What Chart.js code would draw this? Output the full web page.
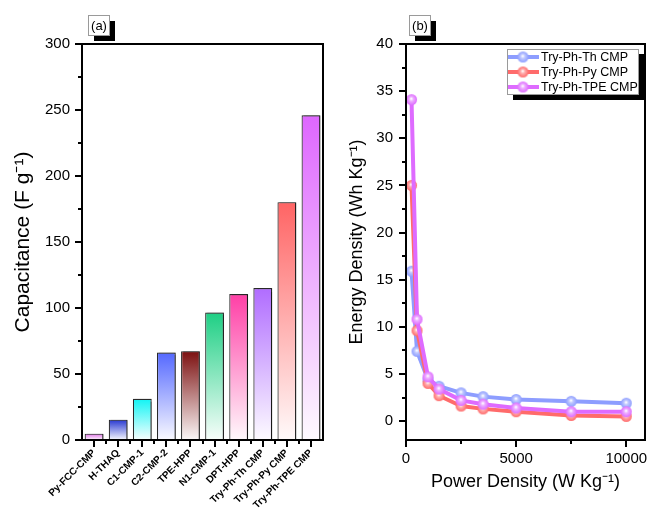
<!DOCTYPE html>
<html>
<head>
<meta charset="utf-8">
<script src="https://cdn.jsdelivr.net/npm/chart.js@4.4.1/dist/chart.umd.min.js"></script>
<style>
  html, body { margin: 0; padding: 0; background: #fff; }
  #wrap { position: relative; width: 648px; height: 513px; }
  #boxA { position: absolute; left: 0; top: 0; width: 330px; height: 513px; }
  #boxB { position: absolute; left: 330px; top: 0; width: 318px; height: 513px; }
</style>
</head>
<body>
<div id="wrap">
  <div id="boxA"><canvas id="chartA"></canvas></div>
  <div id="boxB"><canvas id="chartB"></canvas></div>
</div>
<script>
// (a) specific capacitance of the materials
const materials = ['Py-FCC-CMP', 'H-THAQ', 'C1-CMP-1', 'C2-CMP-2', 'TPE-HPP', 'N1-CMP-1',
                   'DPT-HPP', 'Try-Ph-Th CMP', 'Try-Ph-Py CMP', 'Try-Ph-TPE CMP'];
const capacitance = [4.8, 15.4, 31.3, 66.3, 67.3, 96.5, 110.6, 115.2, 180.2, 246];
const capTicks = [0, 25, 50, 75, 100, 125, 150, 175, 200, 225, 250, 275, 300];
const capTickLabels = [0, 50, 100, 150, 200, 250, 300];

// (b) Ragone plot
const powerDensity = [250, 500, 1000, 1500, 2500, 3500, 5000, 7500, 10000];
const energyTh  = [15.9, 7.4, 4.4, 3.7, 3.0, 2.6, 2.3, 2.1, 1.9];
const energyPy  = [25.0, 9.6, 4.0, 2.7, 1.6, 1.3, 1.0, 0.6, 0.5];
const energyTPE = [34.1, 10.8, 4.7, 3.4, 2.2, 1.8, 1.4, 1.0, 1.0];
const seriesNames = ['Try-Ph-Th CMP', 'Try-Ph-Py CMP', 'Try-Ph-TPE CMP'];
const energyTicks = [0, 2.5, 5, 7.5, 10, 12.5, 15, 17.5, 20, 22.5, 25, 27.5, 30, 32.5, 35, 37.5, 40];
const energyTickLabels = [0, 5, 10, 15, 20, 25, 30, 35, 40];
const powerTicks = [0, 2500, 5000, 7500, 10000];
const powerTickLabels = [0, 5000, 10000];

// colours
const barColors = ['#e070e8', '#2636d0', '#10f4f4', '#5468ff', '#7c1010', '#1ecf84',
                   '#ff3fa6', '#b06cff', '#ff6464', '#de66ff'];
const lineColors = ['#8d9dff', '#ff6b6b', '#de6bff'];

Chart.defaults.font.family = '"Liberation Sans", Arial, sans-serif';
Chart.defaults.color = '#000';

function hexRgb(hex) {
  const n = parseInt(hex.slice(1), 16);
  return [(n >> 16) & 255, (n >> 8) & 255, n & 255];
}
function tint(hex, amt) { // mix with white
  const [r, g, b] = hexRgb(hex);
  const m = v => Math.round(v + (255 - v) * amt);
  return `rgb(${m(r)},${m(g)},${m(b)})`;
}

// shiny ball marker
function sphere(color, r) {
  const c = document.createElement('canvas');
  const s = Math.ceil(r * 2) + 2;
  c.width = c.height = s;
  const g = c.getContext('2d');
  const cx = s / 2, cy = s / 2;
  const grad = g.createRadialGradient(cx - 0.3, cy - 1, 0.3, cx, cy, r);
  grad.addColorStop(0, '#ffffff');
  grad.addColorStop(0.35, tint(color, 0.45));
  grad.addColorStop(1, color);
  g.fillStyle = grad;
  g.beginPath();
  g.arc(cx, cy, r, 0, Math.PI * 2);
  g.fill();
  return c;
}
const balls = lineColors.map(c => sphere(c, 5.5));

// fixed tick lists, no auto padding from labels
const useTicks = (list) => (s) => { s.ticks = list.map(v => ({ value: v })); };
const noPad = (s) => { s.paddingLeft = 0; s.paddingRight = 0; s.paddingTop = 0; s.paddingBottom = 0; };

// box frame + major/minor tick marks drawn outward
const frameTicks = {
  id: 'frameTicks',
  afterDraw(chart) {
    const { ctx, chartArea: a } = chart;
    const xs = chart.scales.x, ys = chart.scales.y;
    ctx.save();
    ctx.strokeStyle = '#000';
    ctx.lineWidth = 2;
    ctx.strokeRect(a.left, a.top, a.right - a.left, a.bottom - a.top);
    ctx.beginPath();
    ys.ticks.forEach(t => {
      const p = Math.round(ys.getPixelForValue(t.value));
      const len = t.label !== '' ? 7 : 4;
      ctx.moveTo(a.left - len, p);
      ctx.lineTo(a.left, p);
    });
    if (xs.type === 'category') {
      for (let i = 0; i < xs.ticks.length; i++) {
        const p = Math.round(xs.getPixelForValue(i));
        ctx.moveTo(p, a.bottom);
        ctx.lineTo(p, a.bottom + 7);
        if (i < xs.ticks.length - 1) {
          const q = Math.round(xs.getPixelForValue(i + 0.5));
          ctx.moveTo(q, a.bottom);
          ctx.lineTo(q, a.bottom + 4);
        }
      }
    } else {
      xs.ticks.forEach(t => {
        const p = Math.round(xs.getPixelForValue(t.value));
        const len = t.label !== '' ? 7 : 4;
        ctx.moveTo(p, a.bottom);
        ctx.lineTo(p, a.bottom + len);
      });
    }
    ctx.stroke();
    ctx.restore();
  }
};

// "(a)" / "(b)" tag with black drop shadow
const panelTag = {
  id: 'panelTag',
  afterDraw(chart, args, opts) {
    const ctx = chart.ctx;
    const x = opts.x, y = 15, w = 21, h = 20;
    ctx.save();
    ctx.fillStyle = '#000';
    ctx.fillRect(x + 6, y + 6, w, h);
    ctx.fillStyle = '#fff';
    ctx.fillRect(x, y, w, h);
    ctx.strokeStyle = '#9a9a9a';
    ctx.lineWidth = 1;
    ctx.strokeRect(x + 0.5, y + 0.5, w, h);
    ctx.fillStyle = '#000';
    ctx.font = '13px "Liberation Sans", Arial, sans-serif';
    ctx.textAlign = 'center';
    ctx.textBaseline = 'middle';
    ctx.fillText(opts.text, x + w / 2 + 0.5, y + h / 2 + 1);
    ctx.restore();
  }
};

// grey shadow on the right side of bars
const barShadow = {
  id: 'barShadow',
  beforeDatasetsDraw(chart) {
    const ctx = chart.ctx;
    ctx.save();
    ctx.shadowColor = 'rgba(0,0,0,0.45)';
    ctx.shadowOffsetX = 2;
    ctx.shadowOffsetY = 0;
    ctx.shadowBlur = 1;
  },
  afterDatasetsDraw(chart) {
    chart.ctx.restore();
  }
};

// framed legend with drop shadow
const boxLegend = {
  id: 'boxLegend',
  afterDraw(chart) {
    const ctx = chart.ctx;
    const left = chart.chartArea.right - 138, top = 49, w = 131, h = 45;
    ctx.save();
    ctx.fillStyle = '#000';
    ctx.fillRect(left + 6, top + 5, w, h + 1);
    ctx.fillStyle = '#fff';
    ctx.fillRect(left, top, w, h);
    ctx.strokeStyle = '#9a9a9a';
    ctx.lineWidth = 1;
    ctx.strokeRect(left + 0.5, top + 0.5, w, h);
    ctx.font = '12.5px "Liberation Sans", Arial, sans-serif';
    ctx.textBaseline = 'middle';
    chart.data.datasets.forEach((ds, i) => {
      const y = top + 8 + i * 15;
      ctx.strokeStyle = ds.borderColor;
      ctx.lineWidth = 4;
      ctx.beginPath();
      ctx.moveTo(left + 1, y);
      ctx.lineTo(left + 32, y);
      ctx.stroke();
      const img = balls[i];
      ctx.drawImage(img, left + 16 - img.width / 2, y - img.height / 2);
      ctx.fillStyle = '#000';
      ctx.fillText(ds.label, left + 34, y + 0.5);
    });
    ctx.restore();
  }
};

// ---------- chart (a) ----------
new Chart(document.getElementById('chartA'), {
  type: 'bar',
  data: {
    labels: materials,
    datasets: [{
      data: capacitance,
      backgroundColor: (c) => {
        const col = barColors[c.dataIndex];
        const chart = c.chart;
        if (!chart.chartArea || c.dataIndex === undefined) return col;
        const ys = chart.scales.y;
        const top = ys.getPixelForValue(capacitance[c.dataIndex]);
        const base = ys.getPixelForValue(0);
        const g = chart.ctx.createLinearGradient(0, top, 0, base);
        g.addColorStop(0, col);
        g.addColorStop(1, tint(col, 0.97));
        return g;
      },
      borderColor: '#2a2a2a',
      borderWidth: 1.2,
      barPercentage: 0.78,
      categoryPercentage: 1
    }]
  },
  options: {
    responsive: true,
    maintainAspectRatio: false,
    animation: false,
    layout: { autoPadding: false, padding: { left: 0, right: 7, top: 44, bottom: 0 } },
    plugins: {
      legend: { display: false },
      tooltip: { enabled: false },
      panelTag: { x: 88, text: '(a)' }
    },
    scales: {
      x: {
        grid: { display: false, drawTicks: false },
        border: { display: false },
        ticks: {
          autoSkip: false,
          minRotation: 45,
          maxRotation: 45,
          padding: 7,
          font: { size: 10, weight: 'bold' }
        },
        afterFit: (s) => { s.height = 73; noPad(s); }
      },
      y: {
        min: 0,
        max: 300,
        grid: { display: false, drawTicks: false },
        border: { display: false },
        afterBuildTicks: useTicks(capTicks),
        ticks: {
          autoSkip: false,
          padding: 12,
          font: { size: 15 },
          callback: (v) => capTickLabels.includes(v) ? String(v) : ''
        },
        title: {
          display: true,
          text: 'Capacitance (F g⁻¹)',
          font: { size: 21 },
          padding: { top: 11, bottom: 0 }
        },
        afterFit: (s) => { s.width = 82; noPad(s); }
      }
    }
  },
  plugins: [barShadow, frameTicks, panelTag]
});

// ---------- chart (b) ----------
const seriesData = [energyTh, energyPy, energyTPE];
new Chart(document.getElementById('chartB'), {
  type: 'line',
  data: {
    datasets: seriesNames.map((name, i) => ({
      label: name,
      data: powerDensity.map((p, k) => ({ x: p, y: seriesData[i][k] })),
      borderColor: lineColors[i],
      backgroundColor: lineColors[i],
      borderWidth: 4,
      pointStyle: balls[i],
      pointRadius: 5.5,
      tension: 0,
      order: 3 - i
    }))
  },
  options: {
    responsive: true,
    maintainAspectRatio: false,
    animation: false,
    layout: { autoPadding: false, padding: { left: 0, right: 3, top: 44, bottom: 0 } },
    plugins: {
      legend: { display: false },
      tooltip: { enabled: false },
      panelTag: { x: 79, text: '(b)' }
    },
    scales: {
      x: {
        type: 'linear',
        min: 0,
        max: 10850,
        grid: { display: false, drawTicks: false },
        border: { display: false },
        afterBuildTicks: useTicks(powerTicks),
        ticks: {
          autoSkip: false,
          padding: 10,
          maxRotation: 0,
          font: { size: 15 },
          callback: (v) => powerTickLabels.includes(v) ? String(v) : ''
        },
        title: {
          display: true,
          text: 'Power Density (W Kg⁻¹)',
          font: { size: 18 },
          padding: { top: 0, bottom: 20 }
        },
        afterFit: (s) => { s.height = 73; noPad(s); }
      },
      y: {
        min: -2,
        max: 40,
        grid: { display: false, drawTicks: false },
        border: { display: false },
        afterBuildTicks: useTicks(energyTicks),
        ticks: {
          autoSkip: false,
          padding: 13,
          font: { size: 15 },
          callback: (v) => energyTickLabels.includes(v) ? String(v) : ''
        },
        title: {
          display: true,
          text: 'Energy Density (Wh Kg⁻¹)',
          font: { size: 18 },
          padding: { top: 16, bottom: 0 }
        },
        afterFit: (s) => { s.width = 76; noPad(s); }
      }
    }
  },
  plugins: [frameTicks, panelTag, boxLegend]
});
</script>
</body>
</html>
